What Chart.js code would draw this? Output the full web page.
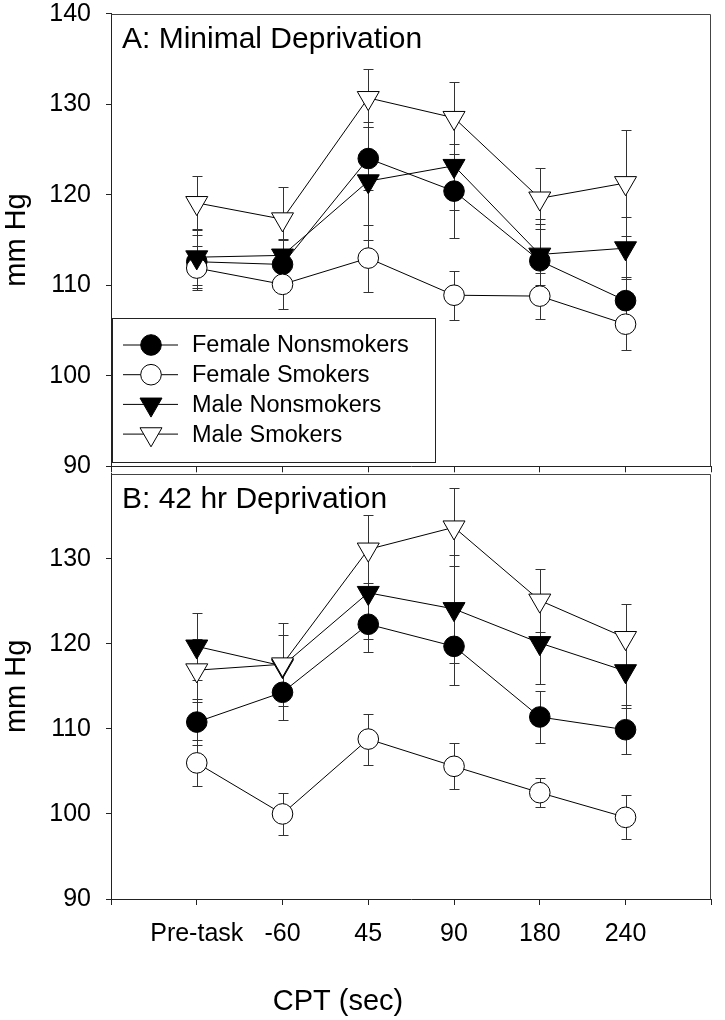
<!DOCTYPE html>
<html>
<head>
<meta charset="utf-8">
<title>Blood pressure during CPT</title>
<script src="https://cdn.jsdelivr.net/npm/chart.js@4.4.1/dist/chart.umd.min.js"></script>
<style>
    html, body { margin: 0; padding: 0; background: #fff; }
    #wrap { position: relative; width: 725px; height: 1020px; }
    #wrap canvas { position: absolute; left: 0; }
    #chartA { top: 0; }
    #chartB { top: 460px; }
</style>
</head>
<body>
<div id="wrap">
    <canvas id="chartB" width="725" height="560"></canvas>
    <canvas id="chartA" width="725" height="480"></canvas>
</div>
<script>
    "use strict";

    // Categories and ticks
    var timepoints = ['Pre-task', '-60', '45', '90', '180', '240'];
    var seriesNames = ['Female Nonsmokers', 'Female Smokers', 'Male Nonsmokers', 'Male Smokers'];
    var yTicksA = [90, 100, 110, 120, 130, 140];
    var yTicksB = [90, 100, 110, 120, 130];

    // Panel A: minimal deprivation (means)
    var femaleNonA = [112.6, 112.3, 124.0, 120.4, 112.7, 108.3];
    var femaleSmkA = [111.9, 110.1, 113.0, 108.9, 108.8, 105.7];
    var maleNonA   = [113.1, 113.3, 121.5, 123.2, 113.4, 114.1];
    var maleSmkA   = [119.1, 117.3, 130.7, 128.5, 119.6, 121.3];
    // Panel A: standard errors
    var femaleNonErrA = [2.9, 2.7, 3.5, 5.2, 4.6, 2.6];
    var femaleSmkErrA = [2.4, 2.7, 3.7, 2.7, 2.5, 2.9];
    var maleNonErrA   = [3.1, 1.8, 6.5, 4.9, 3.4, 3.4];
    var maleSmkErrA   = [3.0, 3.5, 3.2, 4.0, 3.4, 5.9];

    // Panel B: 42 hr deprivation (means)
    var femaleNonB = [110.8, 114.3, 122.3, 119.7, 111.4, 109.9];
    var femaleSmkB = [106.0, 100.0, 108.8, 105.6, 102.5, 99.6];
    var maleNonB   = [119.7, 117.4, 126.0, 124.1, 120.1, 116.8];
    var maleSmkB   = [116.9, 117.6, 131.1, 133.7, 125.1, 120.7];
    // Panel B: standard errors
    var femaleNonErrB = [2.7, 3.3, 3.3, 4.5, 3.1, 2.9];
    var femaleSmkErrB = [2.7, 2.5, 3.0, 2.7, 1.7, 2.6];
    var maleNonErrB   = [3.9, 3.6, 5.4, 6.3, 4.8, 4.3];
    var maleSmkErrB   = [3.7, 4.9, 4.0, 4.6, 3.7, 4.0];

    var FONT = "'Liberation Sans', Arial, sans-serif";
    var AXIS_COLOR = '#222';

    // marker look per series: filled / open circle, filled / open down triangle
    var markerStyle = ['circle', 'circle', 'triangle', 'triangle'];
    var markerFill = ['#000', '#fff', '#000', '#fff'];
    var markerRadius = [10.3, 10.3, 12.7, 12.7];
    var markerRotation = [0, 0, 180, 180];

    function buildDatasets(means, errs) {
        return means.map(function (vals, i) {
            return {
                label: seriesNames[i],
                data: vals.map(function (v, j) { return {x: j + 1, y: v}; }),
                errors: errs[i],
                borderColor: '#000',
                borderWidth: 1,
                pointStyle: markerStyle[i],
                rotation: markerRotation[i],
                pointRadius: markerRadius[i],
                pointBackgroundColor: markerFill[i],
                pointBorderColor: '#000',
                pointBorderWidth: 1,
                tension: 0,
                fill: false,
                order: 4 - i // male smokers end up on top
            };
        });
    }

    // Vertical error bars with caps, drawn under the lines and markers
    var errorBars = {
        id: 'errorBars',
        beforeDatasetsDraw: function (chart) {
            var ctx = chart.ctx, xs = chart.scales.x, ys = chart.scales.y;
            ctx.save();
            ctx.strokeStyle = '#333';
            ctx.lineWidth = 1;
            chart.data.datasets.forEach(function (ds) {
                ds.data.forEach(function (p, j) {
                    var e = ds.errors[j];
                    var px = Math.round(xs.getPixelForValue(p.x)) + 0.5;
                    var top = Math.round(ys.getPixelForValue(p.y + e)) + 0.5;
                    var bot = Math.round(ys.getPixelForValue(p.y - e)) + 0.5;
                    ctx.beginPath();
                    ctx.moveTo(px, top); ctx.lineTo(px, bot);
                    ctx.moveTo(px - 5, top); ctx.lineTo(px + 5, top);
                    ctx.moveTo(px - 5, bot); ctx.lineTo(px + 5, bot);
                    ctx.stroke();
                });
            });
            ctx.restore();
        }
    };

    // Box around the plot area plus the panel label in its corner
    var panelFrame = {
        id: 'panelFrame',
        afterDraw: function (chart, args, opts) {
            var ctx = chart.ctx, a = chart.chartArea;
            ctx.save();
            ctx.strokeStyle = '#444';
            ctx.lineWidth = 1;
            ctx.beginPath();
            ctx.moveTo(Math.round(a.left) + 0.5, Math.round(a.top) + 0.5);
            ctx.lineTo(Math.round(a.right) - 0.5, Math.round(a.top) + 0.5);
            ctx.lineTo(Math.round(a.right) - 0.5, Math.round(a.bottom) + 0.5);
            ctx.stroke();
            ctx.fillStyle = '#000';
            ctx.font = '30px ' + FONT;
            ctx.textAlign = 'left';
            ctx.textBaseline = 'alphabetic';
            ctx.fillText(opts.text, a.left + 11, a.top + 34);
            ctx.restore();
        }
    };

    // Boxed legend inside panel A, using each dataset's own marker settings
    function drawMarker(ctx, ds, x, y) {
        ctx.beginPath();
        if (ds.pointStyle === 'circle') {
            ctx.arc(x, y, ds.pointRadius, 0, Math.PI * 2);
        } else {
            var r = ds.pointRadius, rad = ds.rotation * Math.PI / 180;
            for (var k = 0; k < 3; k++) {
                var px = x + Math.sin(rad) * r, py = y - Math.cos(rad) * r;
                if (k === 0) ctx.moveTo(px, py); else ctx.lineTo(px, py);
                rad += Math.PI * 2 / 3;
            }
            ctx.closePath();
        }
        ctx.fillStyle = ds.pointBackgroundColor;
        ctx.fill();
        ctx.strokeStyle = '#000';
        ctx.stroke();
    }

    var boxLegend = {
        id: 'boxLegend',
        afterDraw: function (chart, args, opts) {
            var ctx = chart.ctx, a = chart.chartArea;
            var left = a.left + 1, top = opts.top, right = a.left + 324, bottom = opts.bottom;
            ctx.save();
            ctx.fillStyle = '#fff';
            ctx.fillRect(left, top, right - left, bottom - top);
            ctx.strokeStyle = '#222';
            ctx.lineWidth = 1;
            ctx.strokeRect(Math.round(left) + 0.5, top + 0.5, right - left, bottom - top);
            ctx.font = '23.5px ' + FONT;
            ctx.textBaseline = 'middle';
            chart.data.datasets.forEach(function (ds, i) {
                var y = top + 27 + i * 29.7;
                ctx.strokeStyle = '#000';
                ctx.beginPath();
                ctx.moveTo(a.left + 12, y);
                ctx.lineTo(a.left + 67, y);
                ctx.stroke();
                drawMarker(ctx, ds, a.left + 40, y);
                ctx.fillStyle = '#000';
                ctx.fillText(ds.label, a.left + 81, y + 1);
            });
            ctx.restore();
        }
    };

    // Off-centre x axis title under panel B
    var xTitle = {
        id: 'xTitle',
        afterDraw: function (chart, args, opts) {
            var ctx = chart.ctx, a = chart.chartArea;
            ctx.save();
            ctx.fillStyle = '#000';
            ctx.font = '29px ' + FONT;
            ctx.textAlign = 'center';
            ctx.textBaseline = 'middle';
            ctx.fillText(opts.text, a.left + 227, a.bottom + 103);
            ctx.restore();
        }
    };

    function fixWidth(w) {
        return function (scale) {
            scale.width = w;
            scale.paddingTop = 0; scale.paddingBottom = 0;
        };
    }
    function fixHeight(h) {
        return function (scale) {
            scale.height = h;
            scale.paddingLeft = 0; scale.paddingRight = 0;
        };
    }

    function makeOptions(panel) {
        var isA = panel === 'A';
        return {
            responsive: false,
            animation: false,
            layout: {padding: {top: isA ? 8 : 11, right: 2, left: 0, bottom: 0}},
            plugins: {
                legend: {display: false},
                tooltip: {enabled: false},
                panelFrame: {text: isA ? 'A: Minimal Deprivation' : 'B: 42 hr Deprivation'},
                boxLegend: {top: 318, bottom: 462},
                xTitle: {text: 'CPT (sec)'}
            },
            scales: {
                x: {
                    type: 'linear',
                    min: 0,
                    max: timepoints.length + 1,
                    afterBuildTicks: function (scale) {
                        var t = [];
                        for (var i = 0; i <= timepoints.length + 1; i++) t.push({value: i});
                        scale.ticks = t;
                    },
                    afterFit: fixHeight(isA ? 9 : 121),
                    grid: {drawOnChartArea: false, drawTicks: true, tickLength: 6, color: AXIS_COLOR},
                    border: {display: true, color: AXIS_COLOR, width: 1},
                    ticks: {
                        display: !isA,
                        autoSkip: false,
                        maxRotation: 0,
                        padding: 14,
                        color: '#000',
                        font: {family: FONT, size: 25},
                        callback: function (v) { return timepoints[v - 1] || ''; }
                    }
                },
                y: {
                    min: 90,
                    max: 140,
                    afterBuildTicks: function (scale) {
                        scale.ticks = (isA ? yTicksA : yTicksB).map(function (v) { return {value: v}; });
                    },
                    afterFit: fixWidth(111),
                    grid: {drawOnChartArea: false, drawTicks: true, tickLength: 5, color: AXIS_COLOR},
                    border: {display: true, color: AXIS_COLOR, width: 1},
                    ticks: {
                        padding: 15,
                        color: '#000',
                        font: {family: FONT, size: 25}
                    },
                    title: {
                        display: true,
                        text: 'mm Hg',
                        color: '#000',
                        padding: {top: 0, bottom: 0},
                        font: {family: FONT, size: 29}
                    }
                }
            }
        };
    }

    // Panel A (top)
    var chartA = new Chart(document.getElementById('chartA'), {
        type: 'line',
        data: {
            datasets: buildDatasets(
                [femaleNonA, femaleSmkA, maleNonA, maleSmkA],
                [femaleNonErrA, femaleSmkErrA, maleNonErrA, maleSmkErrA])
        },
        options: makeOptions('A'),
        plugins: [errorBars, panelFrame, boxLegend]
    });

    // Panel B (bottom)
    var chartB = new Chart(document.getElementById('chartB'), {
        type: 'line',
        data: {
            datasets: buildDatasets(
                [femaleNonB, femaleSmkB, maleNonB, maleSmkB],
                [femaleNonErrB, femaleSmkErrB, maleNonErrB, maleSmkErrB])
        },
        options: makeOptions('B'),
        plugins: [errorBars, panelFrame, xTitle]
    });
</script>
</body>
</html>
